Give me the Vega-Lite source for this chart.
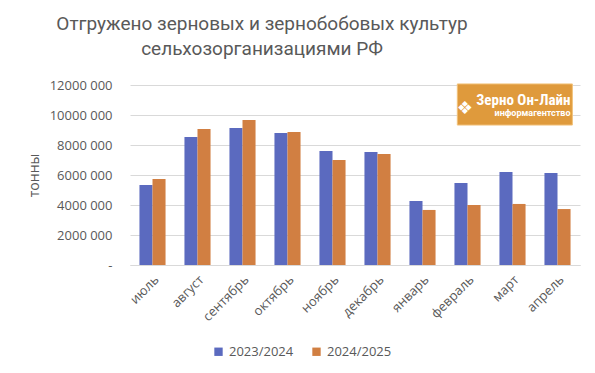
{
  "$schema": "https://vega.github.io/schema/vega-lite/v6.json",
  "width": 450,
  "height": 180,
  "autosize": {"type": "none"},
  "padding": {"left": 130, "top": 85, "right": 15, "bottom": 108},
  "background": "white",
  "title": {
    "text": ["Отгружено зерновых и зернобобовых культур", "сельхозорганизациями РФ"],
    "font": "Roboto",
    "fontSize": 19,
    "fontWeight": "normal",
    "color": "#595959",
    "anchor": "middle",
    "dx": -93,
    "offset": 20,
    "lineHeight": 25
  },
  "config": {
    "view": {"stroke": null},
    "font": "Open Sans",
    "axis": {"labelColor": "#595959", "titleColor": "#595959", "labelFont": "Open Sans", "titleFont": "Open Sans"}
  },
  "layer": [
    {
      "data": {"values": [
        {"month": "июль", "season": "2023/2024", "value": 5330000},
        {"month": "июль", "season": "2024/2025", "value": 5730000},
        {"month": "август", "season": "2023/2024", "value": 8530000},
        {"month": "август", "season": "2024/2025", "value": 9070000},
        {"month": "сентябрь", "season": "2023/2024", "value": 9130000},
        {"month": "сентябрь", "season": "2024/2025", "value": 9670000},
        {"month": "октябрь", "season": "2023/2024", "value": 8800000},
        {"month": "октябрь", "season": "2024/2025", "value": 8870000},
        {"month": "ноябрь", "season": "2023/2024", "value": 7600000},
        {"month": "ноябрь", "season": "2024/2025", "value": 7000000},
        {"month": "декабрь", "season": "2023/2024", "value": 7530000},
        {"month": "декабрь", "season": "2024/2025", "value": 7400000},
        {"month": "январь", "season": "2023/2024", "value": 4270000},
        {"month": "январь", "season": "2024/2025", "value": 3670000},
        {"month": "февраль", "season": "2023/2024", "value": 5470000},
        {"month": "февраль", "season": "2024/2025", "value": 4000000},
        {"month": "март", "season": "2023/2024", "value": 6200000},
        {"month": "март", "season": "2024/2025", "value": 4070000},
        {"month": "апрель", "season": "2023/2024", "value": 6130000},
        {"month": "апрель", "season": "2024/2025", "value": 3730000}
      ]},
      "mark": {"type": "bar"},
      "encoding": {
        "x": {
          "field": "month", "type": "nominal", "sort": null,
          "scale": {"paddingInner": 0.42, "paddingOuter": 0.21},
          "axis": {
            "title": null, "labelAngle": -45, "labelFontSize": 13, "ticks": false,
            "labelPadding": 8, "domainColor": "#d9d9d9", "grid": false
          }
        },
        "xOffset": {"field": "season", "type": "nominal", "scale": {"paddingInner": 0}},
        "y": {
          "field": "value", "type": "quantitative",
          "scale": {"domain": [0, 12000000], "nice": false},
          "axis": {
            "title": "тонны", "titleFontSize": 14, "titleFontWeight": "normal", "titlePadding": 8,
            "values": [0, 2000000, 4000000, 6000000, 8000000, 10000000, 12000000],
            "tickCount": 10,
            "labelExpr": "datum.value == 0 ? '-' : floor(datum.value / 1000) + ' 000'",
            "labelOverlap": false,
            "labelFontSize": 13, "labelPadding": 18, "ticks": false, "domain": false,
            "gridColor": "#d9d9d9"
          }
        },
        "color": {
          "field": "season", "type": "nominal",
          "scale": {"range": ["#5b6abf", "#d17f42"]},
          "legend": {
            "title": null, "orient": "none", "direction": "horizontal",
            "legendX": 82, "legendY": 260, "symbolType": "square", "symbolSize": 70,
            "labelFontSize": 13, "labelColor": "#595959", "columnPadding": 16, "labelFont": "Open Sans"
          }
        }
      }
    },
    {
      "data": {"values": [{"a": 1}]},
      "mark": {"type": "rect", "color": "#df9a3c", "stroke": "#f2c27a", "strokeWidth": 1},
      "encoding": {
        "x": {"datum": "февраль", "type": "nominal", "bandPosition": 0.11},
        "x2": {"datum": "апрель", "bandPosition": 1.07},
        "y": {"datum": 12070000, "type": "quantitative"},
        "y2": {"datum": 9330000}
      }
    },
    {
      "data": {"values": [{"label": "Зерно Он-Лайн"}]},
      "mark": {"type": "text", "color": "white", "fontSize": 15, "fontWeight": "bold", "align": "right", "baseline": "alphabetic", "font": "Roboto Condensed, Roboto"},
      "encoding": {
        "text": {"field": "label"},
        "x": {"datum": "апрель", "type": "nominal", "bandPosition": 1.0},
        "y": {"datum": 10670000, "type": "quantitative"}
      }
    },
    {
      "data": {"values": [{"label": "информагентство"}]},
      "mark": {"type": "text", "color": "white", "fontSize": 9, "fontWeight": "bold", "align": "right", "baseline": "alphabetic", "font": "Roboto"},
      "encoding": {
        "text": {"field": "label"},
        "x": {"datum": "апрель", "type": "nominal", "bandPosition": 1.0},
        "y": {"datum": 9930000, "type": "quantitative"}
      }
    },
    {
      "data": {"values": [{"label": "❖"}]},
      "mark": {"type": "text", "color": "white", "fontSize": 18, "align": "center", "baseline": "middle", "font": "DejaVu Sans"},
      "encoding": {
        "text": {"field": "label"},
        "x": {"datum": "февраль", "type": "nominal", "bandPosition": 0.4},
        "y": {"datum": 10400000, "type": "quantitative"}
      }
    }
  ]
}
